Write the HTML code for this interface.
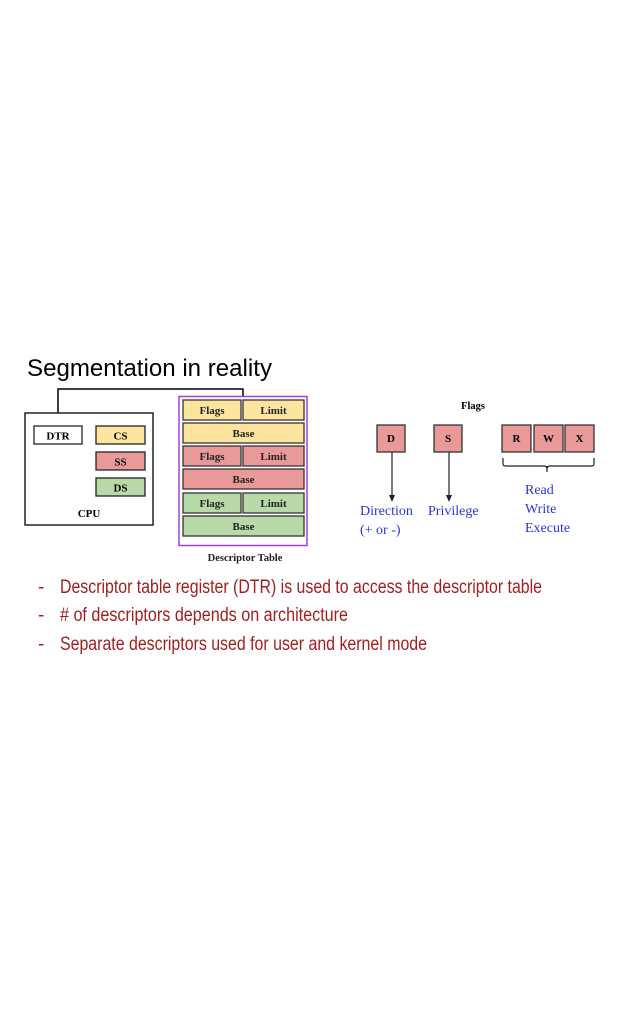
<!DOCTYPE html>
<html><head><style>html,body{margin:0;padding:0;background:#fff}svg{display:block}</style></head>
<body>
<svg width="622" height="1024" viewBox="0 0 622 1024" xmlns="http://www.w3.org/2000/svg" font-family="Liberation Serif, serif">
<text x="27" y="376" font-family="Liberation Sans, sans-serif" font-size="24" fill="#000" textLength="245" lengthAdjust="spacingAndGlyphs">Segmentation in reality</text>
<polyline points="58,426 58,389 243,389 243,397" fill="none" stroke="#000" stroke-width="1.5"/>
<rect x="25" y="413" width="128" height="112" fill="#fff" stroke="#222" stroke-width="1.5"/>
<rect x="34" y="426" width="48" height="18" fill="#fff" stroke="#222" stroke-width="1.3"/>
<text x="58" y="439.5" font-size="11" font-weight="bold" text-anchor="middle">DTR</text>
<rect x="96" y="426" width="49" height="18" fill="#fde5a0" stroke="#222" stroke-width="1.3"/>
<text x="120.5" y="439.5" font-size="11" font-weight="bold" text-anchor="middle">CS</text>
<rect x="96" y="452" width="49" height="18" fill="#e99a98" stroke="#222" stroke-width="1.3"/>
<text x="120.5" y="465.5" font-size="11" font-weight="bold" text-anchor="middle">SS</text>
<rect x="96" y="478" width="49" height="18" fill="#b8d9a8" stroke="#222" stroke-width="1.3"/>
<text x="120.5" y="491.5" font-size="11" font-weight="bold" text-anchor="middle">DS</text>
<text x="89" y="517" font-size="11" font-weight="bold" text-anchor="middle">CPU</text>
<rect x="179" y="396.5" width="128" height="149" fill="#fff" stroke="#a53ee0" stroke-width="1.5"/>
<g stroke="#333" stroke-width="1.3" font-size="11" font-weight="bold" text-anchor="middle">
<rect x="183" y="400" width="58" height="20" fill="#fde5a0"/><rect x="243" y="400" width="61" height="20" fill="#fde5a0"/>
<rect x="183" y="423" width="121" height="20" fill="#fde5a0"/>
<rect x="183" y="446" width="58" height="20" fill="#e99a98"/><rect x="243" y="446" width="61" height="20" fill="#e99a98"/>
<rect x="183" y="469" width="121" height="20" fill="#e99a98"/>
<rect x="183" y="493" width="58" height="20" fill="#b8d9a8"/><rect x="243" y="493" width="61" height="20" fill="#b8d9a8"/>
<rect x="183" y="516" width="121" height="20" fill="#b8d9a8"/>
</g>
<g font-size="11" font-weight="bold" text-anchor="middle" fill="#222">
<text x="212" y="414">Flags</text><text x="273.5" y="414">Limit</text><text x="243.5" y="437">Base</text>
<text x="212" y="460">Flags</text><text x="273.5" y="460">Limit</text><text x="243.5" y="483">Base</text>
<text x="212" y="507">Flags</text><text x="273.5" y="507">Limit</text><text x="243.5" y="530">Base</text>
<text x="245" y="561" font-size="10.5">Descriptor Table</text>
</g>
<text x="473" y="409" font-size="10.5" font-weight="bold" text-anchor="middle">Flags</text>
<g stroke="#333" stroke-width="1.3" fill="#e99a98">
<rect x="377" y="425" width="28" height="27"/><rect x="434" y="425" width="28" height="27"/>
<rect x="502" y="425" width="29" height="27"/><rect x="534" y="425" width="29" height="27"/><rect x="565" y="425" width="29" height="27"/>
</g>
<g font-size="11" font-weight="bold" text-anchor="middle">
<text x="391" y="442">D</text><text x="448" y="442">S</text>
<text x="516.5" y="442">R</text><text x="548.5" y="442">W</text><text x="579.5" y="442">X</text>
</g>
<g stroke="#222" stroke-width="1.2" fill="none">
<line x1="392" y1="452" x2="392" y2="496"/><line x1="449" y1="452" x2="449" y2="496"/>
<path d="M503,458 v6 q0,2 3,2 h38 q3,0 3,3 q0,-3 3,-3 h41 q3,0 3,-2 v-6"/>
<line x1="547" y1="466" x2="547" y2="472"/>
</g>
<path d="M389,495 L392,502 L395,495Z M446,495 L449,502 L452,495Z" fill="#222"/>
<g fill="#2b35d8" font-size="14">
<text x="360" y="515">Direction</text><text x="360" y="534">(+ or -)</text>
<text x="428" y="515">Privilege</text>
<text x="525" y="494">Read</text><text x="525" y="513">Write</text><text x="525" y="532">Execute</text>
</g>
<g fill="#a31f1f" font-family="Liberation Sans Narrow, Liberation Sans, sans-serif" font-size="19">
<text x="38" y="593">-</text><text x="60" y="593" textLength="482" lengthAdjust="spacingAndGlyphs">Descriptor table register (DTR) is used to access the descriptor table</text>
<text x="38" y="621">-</text><text x="60" y="621" textLength="288" lengthAdjust="spacingAndGlyphs"># of descriptors depends on architecture</text>
<text x="38" y="650">-</text><text x="60" y="650" textLength="367" lengthAdjust="spacingAndGlyphs">Separate descriptors used for user and kernel mode</text>
</g>
</svg>
</body></html>
